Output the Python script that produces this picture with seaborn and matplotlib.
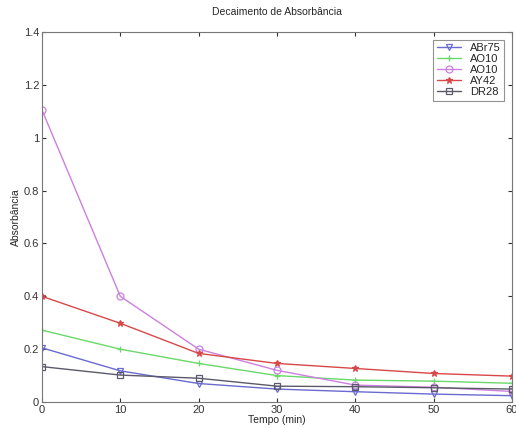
import matplotlib
matplotlib.use("Agg")
import matplotlib.pyplot as plt
import pandas as pd
import seaborn as sns

# ----- data -----
tempo = [0, 10, 20, 30, 40, 50, 60]
abr75 = [0.205, 0.118, 0.070, 0.049, 0.039, 0.030, 0.024]
ao10_a = [0.272, 0.200, 0.146, 0.100, 0.083, 0.079, 0.071]
ao10_b = [1.105, 0.400, 0.200, 0.120, 0.064, 0.056, 0.040]
ay42 = [0.400, 0.298, 0.184, 0.146, 0.127, 0.108, 0.098]
dr28 = [0.134, 0.102, 0.090, 0.060, 0.058, 0.054, 0.049]

series = ["ABr75", "AO10", "AO10 ", "AY42", "DR28"]
labels = ["ABr75", "AO10", "AO10", "AY42", "DR28"]
values = [abr75, ao10_a, ao10_b, ay42, dr28]
colors = ["#6a6ad0", "#6ad86a", "#cc80dd", "#d84848", "#5a5a6a"]
markers = ["v", "+", "o", "*", "s"]

rows = []
for name, vals in zip(series, values):
    for t, v in zip(tempo, vals):
        rows.append({"Tempo": t, "Absorbancia": v, "Corante": name})
df = pd.DataFrame(rows)

sns.set_style("white")
plt.rcParams["font.family"] = ["Liberation Sans", "DejaVu Sans"]

fig = plt.figure(figsize=(5.16, 4.28), dpi=100)
ax = fig.add_axes([0.0814, 0.0607, 0.9106, 0.8643])

for name, lab, c, m in zip(series, labels, colors, markers):
    sub = df[df["Corante"] == name]
    face = c if m == "*" else "none"
    sns.lineplot(data=sub, x="Tempo", y="Absorbancia", ax=ax, color=c,
                 marker=m, markersize=5, markerfacecolor=face,
                 markeredgecolor=c, markeredgewidth=0.9, linewidth=1.0,
                 label=lab)

ax.set_xlim(0, 60)
ax.set_ylim(0, 1.4)
ax.set_xticks(range(0, 61, 10))
ax.set_yticks([0, 0.2, 0.4, 0.6, 0.8, 1.0, 1.2, 1.4])
ax.set_yticklabels(["0", "0.2", "0.4", "0.6", "0.8", "1", "1.2", "1.4"])
ax.tick_params(direction="in", length=3, labelsize=8, colors="#333333",
               top=True, right=True, bottom=True, left=True, pad=2)
for s in ax.spines.values():
    s.set_color("#777777")
    s.set_linewidth(0.8)
ax.set_xlabel("Tempo (min)", fontsize=7.5, labelpad=0)
ax.set_ylabel("Absorbância", fontsize=7.5, labelpad=2)
ax.set_title("Decaimento de Absorbância", fontsize=7.5, pad=12)

leg = ax.legend(loc="upper right", fontsize=8, frameon=True, fancybox=False,
                handlelength=2.2, borderpad=0.3, labelspacing=0.1,
                bbox_to_anchor=(0.995, 0.995))
leg.get_frame().set_edgecolor("#777777")
leg.get_frame().set_linewidth(0.8)

fig.savefig("out.png", dpi=100)
plt.close(fig)
